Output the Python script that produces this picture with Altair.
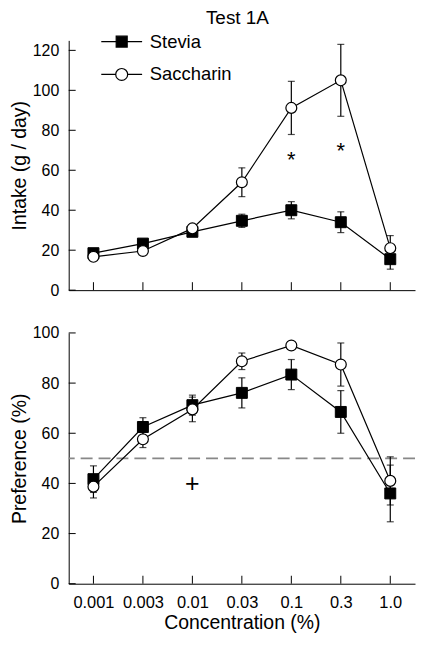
import altair as alt
import pandas as pd

# ---- data ----
conc = ["0.001", "0.003", "0.01", "0.03", "0.1", "0.3", "1.0"]
series_names = ["Stevia", "Saccharin"]

intake_stevia = [18.5, 23.3, 29.2, 34.7, 40.0, 34.0, 15.5]
intake_stevia_err = [1.5, 1.5, 2.0, 3.3, 4.3, 5.2, 5.0]
intake_sacch = [16.7, 19.6, 30.9, 54.0, 91.2, 105.0, 21.0]
intake_sacch_err = [1.2, 1.2, 2.0, 7.2, 13.3, 18.0, 6.3]

pref_stevia = [41.7, 62.5, 71.2, 76.1, 83.4, 68.5, 36.0]
pref_stevia_err = [5.3, 3.7, 4.0, 6.0, 6.0, 8.5, 11.3]
pref_sacch = [38.7, 57.6, 69.5, 88.7, 95.0, 87.4, 41.0]
pref_sacch_err = [4.5, 3.3, 4.9, 3.3, 1.0, 8.6, 9.6]

intake_marks_conc = ["0.1", "0.3"]
intake_marks_val = [67.7, 72.2]
intake_marks_text = ["*", "*"]
pref_marks_conc = ["0.01"]
pref_marks_val = [40.0]
pref_marks_text = ["+"]
chance_level = [50]

intake_ticks = [0, 20, 40, 60, 80, 100, 120]
pref_ticks = [0, 20, 40, 60, 80, 100]

FONT = "Liberation Sans"


def long_df(a, ae, b, be):
    rows = []
    for name, vals, errs in (("Stevia", a, ae), ("Saccharin", b, be)):
        for c, v, e in zip(conc, vals, errs):
            rows.append({"conc": c, "series": name, "value": v,
                         "lo": v - e, "hi": v + e})
    return pd.DataFrame(rows)


intake_df = long_df(intake_stevia, intake_stevia_err, intake_sacch, intake_sacch_err)
pref_df = long_df(pref_stevia, pref_stevia_err, pref_sacch, pref_sacch_err)

PLOT_W = 348

# legend glyphs: unit = 6 px (symbolSize 144); line spans +-20.5 px
SQ_PATH = "M-3.42,0L3.42,0M-0.92,-0.92L0.92,-0.92L0.92,0.92L-0.92,0.92Z"
CI_PATH = ("M-3.42,0L-1,0M1,0L3.42,0"
           "M-1,0C-1,-0.55,-0.55,-1,0,-1"
           "C0.55,-1,1,-0.55,1,0"
           "C1,0.55,0.55,1,0,1"
           "C-0.55,1,-1,0.55,-1,0Z")


def make_legend():
    return alt.Legend(
        title=None, orient="none", legendX=44, legendY=-8, symbolSize=144,
        symbolStrokeColor="black", symbolStrokeWidth=1.2, symbolOpacity=1,
        labelFont=FONT, labelFontSize=18.5, labelColor="black",
        labelOffset=19, rowPadding=14, padding=0)


def panel(df, ymax, height, ytitle, yticks, show_x, marks_c, marks_v, marks_t,
          mark_size, mark_dy, legend=False, chance=None):
    xscale = alt.Scale(type="point", domain=conc, padding=0.5)
    if show_x:
        xaxis = alt.Axis(title="Concentration (%)", ticks=False, labelAngle=0,
                         labelFontSize=16.5, labelPadding=11, titleFontSize=19.5,
                         titlePadding=3, titleFontWeight="normal",
                         labelColor="black", titleColor="black",
                         domainColor="black", domainWidth=1)
    else:
        xaxis = alt.Axis(title=None, ticks=False, labels=False,
                         domainColor="black", domainWidth=1)
    yscale = alt.Scale(domain=[0, ymax], nice=False, zero=True)
    yaxis = alt.Axis(title=ytitle, values=yticks, ticks=False, grid=False,
                     labelFontSize=16, labelPadding=10, titleFontSize=19.5,
                     titlePadding=3, titleFontWeight="normal",
                     labelColor="black", titleColor="black",
                     domainColor="black", domainWidth=1)

    X = alt.X("conc:N", scale=xscale, axis=xaxis, sort=conc)

    def Y(field):
        return alt.Y(field, scale=yscale, axis=yaxis)

    base = alt.Chart(df)
    layers = []

    if chance is not None:
        layers.append(
            alt.Chart(pd.DataFrame({"value": chance})).mark_rule(
                color="#888888", strokeWidth=1.6, strokeDash=[12, 6]
            ).encode(y=Y("value:Q"))
        )

    err_rule = base.mark_rule(color="black", strokeWidth=1.2).encode(
        x=X, y=Y("lo:Q"), y2="hi:Q")
    cap_lo = base.mark_tick(color="black", size=7, thickness=1.2).encode(
        x=X, y=Y("lo:Q"))
    cap_hi = base.mark_tick(color="black", size=7, thickness=1.2).encode(
        x=X, y=Y("hi:Q"))
    line = base.mark_line(color="black", strokeWidth=1.2).encode(
        x=X, y=Y("value:Q"), detail="series:N")
    squares = base.transform_filter(alt.datum.series == "Stevia").mark_point(
        shape="square", filled=True, fill="black", stroke="black",
        strokeWidth=1, size=121, opacity=1
    ).encode(x=X, y=Y("value:Q"))
    circles = base.transform_filter(alt.datum.series == "Saccharin").mark_point(
        shape="circle", filled=True, fill="white", stroke="black",
        strokeWidth=1.2, size=120, opacity=1
    ).encode(x=X, y=Y("value:Q"))
    layers += [err_rule, cap_lo, cap_hi, line, squares, circles]

    # inward tick marks
    xt = alt.Chart(pd.DataFrame({"conc": conc})).mark_rule(
        color="black", strokeWidth=1).encode(
        x=X, y=alt.value(height), y2=alt.value(height - 8))
    yt = alt.Chart(pd.DataFrame({"value": yticks})).mark_rule(
        color="black", strokeWidth=1).encode(
        y=Y("value:Q"), x=alt.value(0), x2=alt.value(7))
    layers += [xt, yt]

    # annotation symbols
    ann = alt.Chart(pd.DataFrame({"conc": marks_c, "value": marks_v,
                                  "txt": marks_t})).mark_text(
        font=FONT, fontSize=mark_size, color="black", baseline="alphabetic",
        align="center", dy=mark_dy
    ).encode(x=X, y=Y("value:Q"), text="txt:N")
    layers.append(ann)

    if legend:
        leg = base.transform_filter("false").mark_point(
            filled=True, stroke="black", strokeWidth=1.2, opacity=1
        ).encode(
            x=X, y=Y("value:Q"),
            shape=alt.Shape("series:N",
                            scale=alt.Scale(domain=series_names,
                                            range=[SQ_PATH, CI_PATH]),
                            legend=make_legend()),
            fill=alt.Fill("series:N",
                          scale=alt.Scale(domain=series_names,
                                          range=["black", "white"]),
                          legend=make_legend()),
            stroke=alt.Stroke("series:N",
                              scale=alt.Scale(domain=series_names,
                                              range=["black", "black"]),
                              legend=make_legend()),
        )
        layers.append(leg)

    return alt.layer(*layers).properties(width=PLOT_W, height=height)


top = panel(intake_df, 125, 251, "Intake (g / day)", intake_ticks, False,
            intake_marks_conc, intake_marks_val, intake_marks_text, 22, 12.5,
            legend=True)

bottom = panel(pref_df, 100, 252, "Preference (%)", pref_ticks, True,
               pref_marks_conc, pref_marks_val, pref_marks_text, 25, 8.5,
               chance=chance_level)

chart = alt.vconcat(top, bottom, spacing=25).properties(
    padding=0,
    title=alt.TitleParams("Test 1A", font=FONT, fontSize=19,
                          fontWeight="normal", anchor="middle", dx=25,
                          offset=4, color="black"),
).configure(
    font=FONT
).configure_view(stroke="transparent").configure_axis(
    labelFont=FONT, titleFont=FONT
)

chart.save("out.html", embed_options={"renderer": "svg", "actions": False})
